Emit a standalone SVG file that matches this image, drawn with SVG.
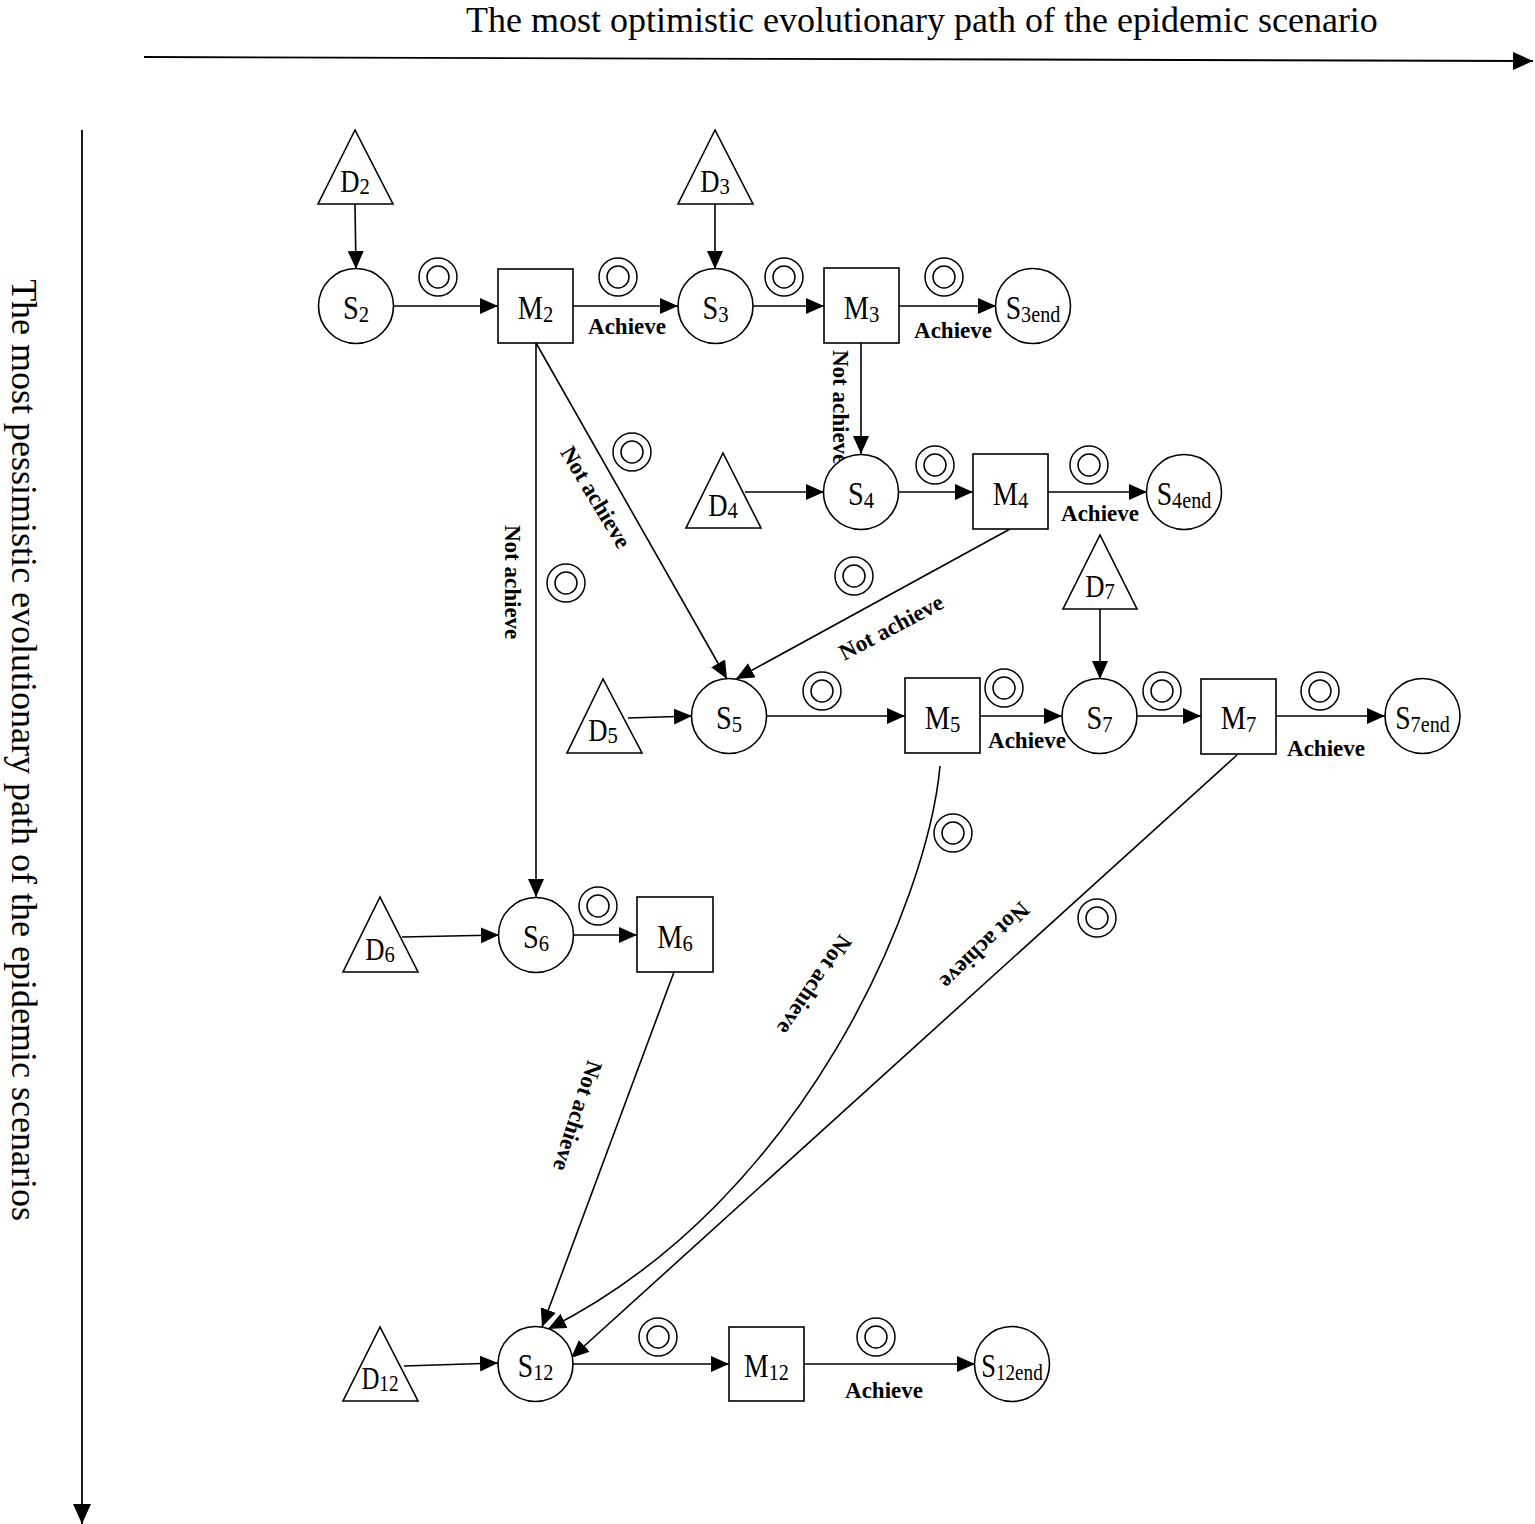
<svg xmlns="http://www.w3.org/2000/svg" xmlns:xlink="http://www.w3.org/1999/xlink" width="1535" height="1524" viewBox="0 0 1535 1524">
<style>
.n{fill:#fff;stroke:#000;stroke-width:1.6}
.c{fill:none;stroke:#000;stroke-width:1.6;marker-end:url(#a)}
.ax{fill:none;stroke:#000;stroke-width:1.8;marker-end:url(#ax)}
.lbl{font-family:"Liberation Serif","Times New Roman",serif;font-size:33px;text-anchor:middle;fill:#000}
.dl{font-size:31px}
.sub{font-size:24px}
.ach{font-family:"Liberation Serif","Times New Roman",serif;font-size:23px;font-weight:bold;text-anchor:middle;fill:#000}
.ttl{font-family:"Liberation Serif","Times New Roman",serif;font-size:36px;fill:#000}
.dc{fill:none;stroke:#000;stroke-width:1.5}
</style>
<defs>
<marker id="a" markerUnits="userSpaceOnUse" markerWidth="19" markerHeight="17" refX="18" refY="8" orient="auto"><path d="M0,0 L18,8 L0,16 z" fill="#000"/></marker>
<marker id="ax" markerUnits="userSpaceOnUse" markerWidth="21" markerHeight="19" refX="20" refY="9" orient="auto"><path d="M0,0 L20,9 L0,18 z" fill="#000"/></marker>
<g id="dc"><circle class="dc" r="19"/><circle class="dc" r="11"/></g>
</defs>

<g id="axes">
<line class="ax" x1="144" y1="57" x2="1533" y2="61"/>
<line class="ax" x1="82" y1="130" x2="82" y2="1524"/>
<text class="ttl" x="922" y="32" text-anchor="middle">The most optimistic evolutionary path of the epidemic scenario</text>
<text class="ttl" text-anchor="middle" transform="translate(12,750) rotate(90)">The most pessimistic evolutionary path of the epidemic scenarios</text>
</g>

<g id="connectors">
<line class="c" x1="355" y1="204" x2="356" y2="269"/>
<line class="c" x1="394" y1="306" x2="498" y2="306"/>
<line class="c" x1="573" y1="306" x2="678" y2="306"/>
<line class="c" x1="715" y1="204" x2="715" y2="269"/>
<line class="c" x1="753" y1="306" x2="824" y2="306"/>
<line class="c" x1="899" y1="306" x2="996" y2="306"/>
<line class="c" x1="861" y1="343" x2="861" y2="454"/>
<line class="c" x1="745" y1="492" x2="824" y2="492"/>
<line class="c" x1="899" y1="492" x2="973" y2="492"/>
<line class="c" x1="1048" y1="492" x2="1147" y2="492"/>
<line class="c" x1="536" y1="343" x2="727" y2="679"/>
<line class="c" x1="1010" y1="529" x2="736" y2="679"/>
<line class="c" x1="536" y1="343" x2="536" y2="897"/>
<line class="c" x1="628" y1="718" x2="692" y2="716"/>
<line class="c" x1="767" y1="716" x2="905" y2="716"/>
<line class="c" x1="980" y1="716" x2="1062" y2="716"/>
<line class="c" x1="1100" y1="609" x2="1100" y2="679"/>
<line class="c" x1="1137" y1="716" x2="1201" y2="716"/>
<line class="c" x1="1276" y1="716" x2="1385" y2="716"/>
<line class="c" x1="402" y1="937" x2="499" y2="935"/>
<line class="c" x1="573" y1="935" x2="637" y2="935"/>
<line class="c" x1="674" y1="972" x2="542" y2="1327"/>
<path class="c" d="M940,766 C928,900 805,1200 548,1329"/>
<line class="c" x1="1237" y1="755" x2="571" y2="1358"/>
<line class="c" x1="404" y1="1366" x2="498" y2="1363"/>
<line class="c" x1="573" y1="1364" x2="729" y2="1364"/>
<line class="c" x1="804" y1="1364" x2="975" y2="1364"/>
</g>

<g id="edge-labels">
<text class="ach" x="627" y="334">Achieve</text>
<text class="ach" x="953" y="338">Achieve</text>
<text class="ach" x="1100" y="521">Achieve</text>
<text class="ach" x="1027" y="748">Achieve</text>
<text class="ach" x="1326" y="756">Achieve</text>
<text class="ach" x="884" y="1398">Achieve</text>
<text class="ach" style="text-anchor:start" transform="translate(833,350) rotate(90)">Not achieve</text>
<text class="ach" style="text-anchor:start" transform="translate(505,525) rotate(90)">Not achieve</text>
<text class="ach" y="8" transform="translate(596,497) rotate(59)">Not achieve</text>
<text class="ach" y="8" transform="translate(891,627) rotate(-28)">Not achieve</text>
<text class="ach" y="8" transform="translate(578,1116) rotate(108)">Not achieve</text>
<text class="ach" y="8" transform="translate(815,985) rotate(124)">Not achieve</text>
<text class="ach" y="8" transform="translate(985,946) rotate(136)">Not achieve</text>
</g>

<g id="markers">
<use xlink:href="#dc" x="438" y="277"/>
<use xlink:href="#dc" x="618" y="277"/>
<use xlink:href="#dc" x="784" y="277"/>
<use xlink:href="#dc" x="944" y="277"/>
<use xlink:href="#dc" x="632" y="452"/>
<use xlink:href="#dc" x="566" y="583"/>
<use xlink:href="#dc" x="935" y="465"/>
<use xlink:href="#dc" x="1089" y="465"/>
<use xlink:href="#dc" x="854" y="576"/>
<use xlink:href="#dc" x="822" y="691"/>
<use xlink:href="#dc" x="1004" y="688"/>
<use xlink:href="#dc" x="1162" y="691"/>
<use xlink:href="#dc" x="1320" y="691"/>
<use xlink:href="#dc" x="598" y="906"/>
<use xlink:href="#dc" x="953" y="833"/>
<use xlink:href="#dc" x="1097" y="918"/>
<use xlink:href="#dc" x="658" y="1337"/>
<use xlink:href="#dc" x="876" y="1337"/>
</g>

<g id="D2"><polygon class="n" points="355,130 318,204 393,204"/><text class="lbl dl" transform="translate(355,192) scale(0.86,1)">D<tspan class="sub" dy="2">2</tspan></text></g>
<g id="D3"><polygon class="n" points="715,130 678,204 753,204"/><text class="lbl dl" transform="translate(715,192) scale(0.86,1)">D<tspan class="sub" dy="2">3</tspan></text></g>
<g id="D4"><polygon class="n" points="723,453 686,528 761,528"/><text class="lbl dl" transform="translate(723,516) scale(0.86,1)">D<tspan class="sub" dy="2">4</tspan></text></g>
<g id="D5"><polygon class="n" points="603,679 567,753 642,753"/><text class="lbl dl" transform="translate(603,741) scale(0.86,1)">D<tspan class="sub" dy="2">5</tspan></text></g>
<g id="D6"><polygon class="n" points="380,897 343,972 418,972"/><text class="lbl dl" transform="translate(380,960) scale(0.86,1)">D<tspan class="sub" dy="2">6</tspan></text></g>
<g id="D7"><polygon class="n" points="1100,535 1063,609 1137,609"/><text class="lbl dl" transform="translate(1100,597) scale(0.86,1)">D<tspan class="sub" dy="2">7</tspan></text></g>
<g id="D12"><polygon class="n" points="380,1327 343,1401 418,1401"/><text class="lbl dl" transform="translate(380,1389) scale(0.8,1)">D<tspan class="sub" dy="2">12</tspan></text></g>

<g id="S2"><circle class="n" cx="356" cy="306" r="37.5"/><text class="lbl" transform="translate(356,319) scale(0.86,1)">S<tspan class="sub" dy="3">2</tspan></text></g>
<g id="M2"><rect class="n" x="498" y="269" width="75" height="74"/><text class="lbl" transform="translate(535.5,319) scale(0.86,1)">M<tspan class="sub" dy="3">2</tspan></text></g>
<g id="S3"><circle class="n" cx="715.5" cy="306" r="37.5"/><text class="lbl" transform="translate(715.5,319) scale(0.86,1)">S<tspan class="sub" dy="3">3</tspan></text></g>
<g id="M3"><rect class="n" x="824" y="268" width="75" height="75"/><text class="lbl" transform="translate(861.5,319) scale(0.86,1)">M<tspan class="sub" dy="3">3</tspan></text></g>
<g id="S3end"><circle class="n" cx="1033" cy="306" r="37.5"/><text class="lbl" transform="translate(1033,319) scale(0.84,1)">S<tspan class="sub" dy="3">3end</tspan></text></g>
<g id="S4"><circle class="n" cx="861" cy="492" r="37.5"/><text class="lbl" transform="translate(861,505) scale(0.86,1)">S<tspan class="sub" dy="3">4</tspan></text></g>
<g id="M4"><rect class="n" x="973" y="454" width="75" height="75"/><text class="lbl" transform="translate(1010.5,505) scale(0.86,1)">M<tspan class="sub" dy="3">4</tspan></text></g>
<g id="S4end"><circle class="n" cx="1184" cy="492" r="37.5"/><text class="lbl" transform="translate(1184,505) scale(0.84,1)">S<tspan class="sub" dy="3">4end</tspan></text></g>
<g id="S5"><circle class="n" cx="729" cy="716" r="37.5"/><text class="lbl" transform="translate(729,729) scale(0.86,1)">S<tspan class="sub" dy="3">5</tspan></text></g>
<g id="M5"><rect class="n" x="905" y="678" width="75" height="75"/><text class="lbl" transform="translate(942.5,729) scale(0.86,1)">M<tspan class="sub" dy="3">5</tspan></text></g>
<g id="S7"><circle class="n" cx="1099.5" cy="716" r="37.5"/><text class="lbl" transform="translate(1099.5,729) scale(0.86,1)">S<tspan class="sub" dy="3">7</tspan></text></g>
<g id="M7"><rect class="n" x="1201" y="679" width="75" height="75"/><text class="lbl" transform="translate(1238.5,729) scale(0.86,1)">M<tspan class="sub" dy="3">7</tspan></text></g>
<g id="S7end"><circle class="n" cx="1422.5" cy="716" r="37.5"/><text class="lbl" transform="translate(1422.5,729) scale(0.84,1)">S<tspan class="sub" dy="3">7end</tspan></text></g>
<g id="S6"><circle class="n" cx="536" cy="935" r="37.5"/><text class="lbl" transform="translate(536,948) scale(0.86,1)">S<tspan class="sub" dy="3">6</tspan></text></g>
<g id="M6"><rect class="n" x="637" y="897" width="76" height="75"/><text class="lbl" transform="translate(675,948) scale(0.86,1)">M<tspan class="sub" dy="3">6</tspan></text></g>
<g id="S12"><circle class="n" cx="535.5" cy="1364" r="37.5"/><text class="lbl" transform="translate(535.5,1377) scale(0.84,1)">S<tspan class="sub" dy="3">12</tspan></text></g>
<g id="M12"><rect class="n" x="729" y="1327" width="75" height="74"/><text class="lbl" transform="translate(766.5,1377) scale(0.84,1)">M<tspan class="sub" dy="3">12</tspan></text></g>
<g id="S12end"><circle class="n" cx="1012" cy="1364" r="37.5"/><text class="lbl" transform="translate(1012,1377) scale(0.8,1)">S<tspan class="sub" dy="3">12end</tspan></text></g>
</svg>
